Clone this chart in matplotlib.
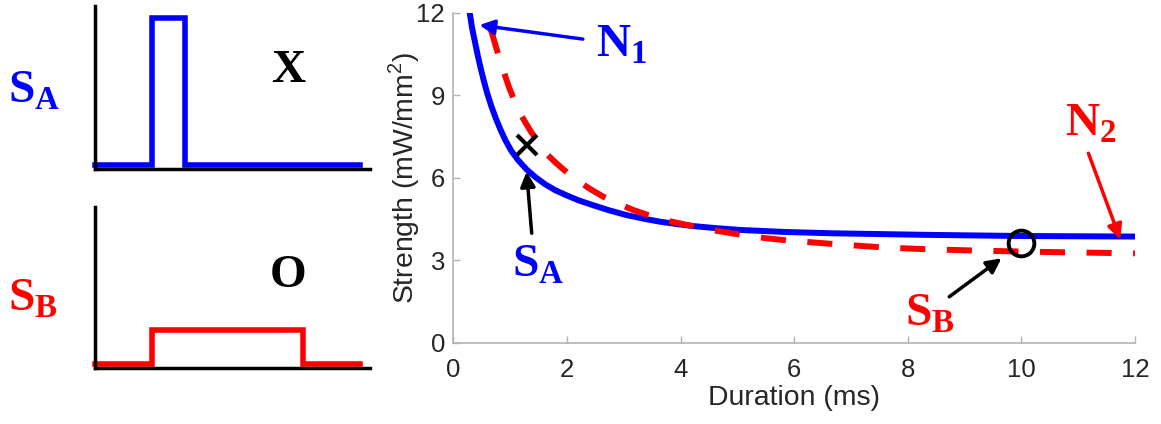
import numpy as np
import matplotlib
matplotlib.use('Agg')
import matplotlib.pyplot as plt

plt.rcParams['font.family'] = 'Liberation Sans'
plt.rcParams['mathtext.fontset'] = 'custom'
plt.rcParams['mathtext.bf'] = 'Liberation Serif:bold'
plt.rcParams['mathtext.rm'] = 'Liberation Serif'
plt.rcParams['mathtext.sf'] = 'Liberation Sans'

# strength-duration curves
dur_n1 = [0.29, 0.33, 0.38, 0.43, 0.48, 0.54, 0.60, 0.67, 0.75, 0.83, 0.92, 1.02, 1.14, 1.29,
          1.44, 1.61, 1.79, 1.97, 2.2, 2.46, 2.75, 3.05, 3.35, 3.64, 3.95, 4.23, 4.6, 5.05,
          5.8, 6.63, 7.5, 8.39, 9.2, 10.0, 11.0, 12.0]
str_n1 = [11.98, 11.45, 10.95, 10.45, 10.0, 9.5, 9.05, 8.6, 8.15, 7.75, 7.35, 6.98, 6.64, 6.30,
          6.03, 5.77, 5.55, 5.38, 5.18, 5.0, 4.81, 4.64, 4.51, 4.40, 4.31, 4.24, 4.17, 4.1,
          4.03, 3.98, 3.95, 3.92, 3.90, 3.88, 3.87, 3.86]
dur_n2 = [0.66, 0.72, 0.8, 0.9, 0.98, 1.08, 1.2, 1.35, 1.5, 1.65, 1.8, 1.95, 2.15, 2.4, 2.64,
          2.9, 3.15, 3.43, 3.8, 4.26, 4.6, 5.08, 5.5, 5.93, 6.75, 7.6, 8.33, 9.2, 10.1, 11.0, 12.0]
str_n2 = [11.4, 10.98, 10.42, 9.78, 9.29, 8.78, 8.25, 7.73, 7.25, 6.85, 6.55, 6.28, 5.95, 5.6,
          5.31, 5.06, 4.84, 4.64, 4.42, 4.22, 4.08, 3.92, 3.80, 3.71, 3.58, 3.46, 3.40, 3.35,
          3.31, 3.28, 3.25]

# stimulus points
sa_point = (1.3, 7.2)
sb_point = (10.0, 3.62)

# pulse shapes for the left panels (schematic units)
pulse_a_t = [0, 2.07, 2.07, 3.27, 3.27, 9.64]
pulse_a_v = [0.025, 0.025, 0.926, 0.926, 0.025, 0.025]
pulse_b_t = [0, 2.07, 2.07, 7.56, 7.56, 9.64]
pulse_b_v = [0.025, 0.025, 0.236, 0.236, 0.025, 0.025]

W, H = 1161, 424
fig = plt.figure(figsize=(W / 100, H / 100), dpi=100)

def px_axes(x0, y0, x1, y1):
    return fig.add_axes([x0 / W, 1 - y1 / H, (x1 - x0) / W, (y1 - y0) / H])

# left pulse panels
for (t, v, col, top, bot, lab, mark, labY, markY) in [
        (pulse_a_t, pulse_a_v, 'blue', 6, 169, 'A', 'X', 103, 70.5),
        (pulse_b_t, pulse_b_v, 'red', 207, 368, 'B', 'O', 310, 276)]:
    a = px_axes(95, top, 370, bot)
    a.plot(t, v, color=col, lw=4, clip_on=False, solid_joinstyle='miter')
    a.set_xlim(0, 10)
    a.set_ylim(0, 1)
    for s in ['top', 'right']:
        a.spines[s].set_visible(False)
    for s in ['left', 'bottom']:
        a.spines[s].set_linewidth(2.5)
        a.spines[s].set_color('black')
    a.set_xticks([])
    a.set_yticks([])
    a.patch.set_alpha(0)
    fig.text(8 / W, 1 - labY / H, r'$\mathbf{S}_\mathbf{%s}$' % lab, color=col,
             fontsize=34, ha='left', va='baseline')
    fig.text(288 / W, 1 - markY / H, mark, family='Liberation Serif', weight='bold',
             fontsize=34, ha='center', va='center')

# main strength-duration plot
ax = px_axes(453.3, 12.7, 1135, 342.7)
ax.plot(dur_n1, str_n1, color='blue', lw=4.3, solid_joinstyle='round')
ax.plot(dur_n2, str_n2, color='red', lw=4.3, dashes=(4.2, 3.6), dash_capstyle='butt')
ax.plot(*sa_point, marker='x', color='black', ms=15, mew=3)
ax.plot(*sb_point, marker='o', color='black', mfc='none', ms=18.5, mew=2.8)

ax.set_xlim(0, 12)
ax.set_ylim(0, 12)
ax.set_xticks([0, 2, 4, 6, 8, 10, 12])
ax.set_yticks([0, 3, 6, 9, 12])
for s in ['top', 'right']:
    ax.spines[s].set_visible(False)
for s in ['left', 'bottom']:
    ax.spines[s].set_color('#b3b3b3')
    ax.spines[s].set_linewidth(1.2)
ax.tick_params(direction='in', length=5, width=1, color='#b3b3b3',
               labelsize=18.5, labelcolor='#262626')
ax.tick_params(axis='x', pad=11)
ax.tick_params(axis='y', pad=6)
ax.set_xlabel('Duration (ms)', fontsize=20.4, color='#262626', labelpad=2)
ax.set_ylabel(r'Strength (mW/mm$^\mathsf{2}$)', fontsize=20.4, color='#262626', labelpad=-4)

# annotations
arrow = dict(arrowstyle='-|>', lw=2.5, mutation_scale=22, shrinkA=0, shrinkB=0)
ax.annotate('', xy=(0.46, 11.55), xytext=(2.28, 11.04),
            arrowprops=dict(arrow, color='blue'), annotation_clip=False)
ax.annotate('', xy=(1.29, 6.22), xytext=(1.38, 3.98),
            arrowprops=dict(arrow, color='black'), annotation_clip=False)
ax.annotate('', xy=(11.74, 3.76), xytext=(11.18, 6.89),
            arrowprops=dict(arrow, color='red'), annotation_clip=False)
ax.annotate('', xy=(9.65, 3.07), xytext=(8.73, 1.67),
            arrowprops=dict(arrow, color='black'), annotation_clip=False)

ax.text(2.51, 10.39, r'$\mathbf{N}_\mathbf{1}$', color='blue', fontsize=34,
        ha='left', va='baseline', clip_on=False)
ax.text(1.03, 2.39, r'$\mathbf{S}_\mathbf{A}$', color='blue', fontsize=34,
        ha='left', va='baseline', clip_on=False)
ax.text(10.77, 7.55, r'$\mathbf{N}_\mathbf{2}$', color='red', fontsize=34,
        ha='left', va='baseline', clip_on=False)
ax.text(7.95, 0.64, r'$\mathbf{S}_\mathbf{B}$', color='red', fontsize=34,
        ha='left', va='baseline', clip_on=False)

fig.savefig('out.png', dpi=100)
